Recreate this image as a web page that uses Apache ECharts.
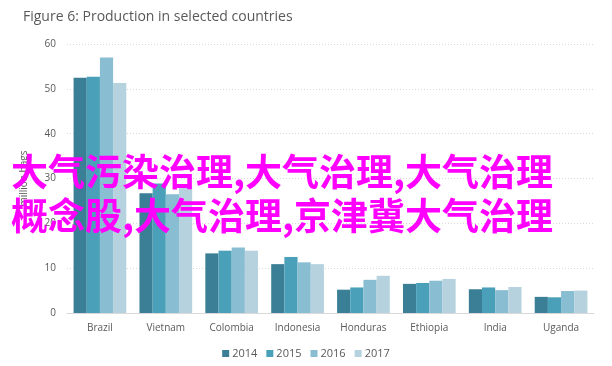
<!DOCTYPE html>
<html>
<head>
<meta charset="utf-8">
<script src="https://cdn.jsdelivr.net/npm/echarts@6/dist/echarts.min.js"></script>
<style>html,body{margin:0;padding:0;background:#fff;}#c{width:612px;height:366px;}</style>
</head>
<body>
<div id="c"></div>
<script>
const categories = ['Brazil','Vietnam','Colombia','Indonesia','Honduras','Ethiopia','India','Uganda'];
const seriesNames = ['2014','2015','2016','2017'];
const v2014 = [52.5, 26.7, 13.3, 10.9, 5.2, 6.5, 5.3, 3.6];
const v2015 = [52.7, 28.9, 13.9, 12.5, 5.7, 6.7, 5.7, 3.5];
const v2016 = [57.0, 26.5, 14.6, 11.3, 7.4, 7.2, 5.1, 4.9];
const v2017 = [51.3, 28.5, 13.9, 10.9, 8.3, 7.6, 5.8, 5.0];
const yTicks = [0, 10, 20, 30, 40, 50, 60];
const colors = ['#3b7f96', '#4aa0b9', '#88bdd2', '#b6d2de'];
const overlayText = '大气污染治理,大气治理,大气治理\n概念股,大气治理,京津冀大气治理';

const values = [v2014, v2015, v2016, v2017];
const chart = echarts.init(document.getElementById('c'));
chart.setOption({
  animation: false,
  title: {
    text: 'Figure 6: Production in selected countries',
    left: 18, top: 5,
    textStyle: {fontFamily: 'Open Sans', fontSize: 14, fontWeight: 'normal', color: '#595959'}
  },
  legend: {
    bottom: 2, left: 'center',
    itemWidth: 7, itemHeight: 7, itemGap: 9,
    icon: 'rect',
    textStyle: {fontFamily: 'Open Sans', fontSize: 11, color: '#595959', padding: [0,0,0,-2]},
    data: seriesNames
  },
  grid: {left: 67, right: 18, top: 44, bottom: 53},
  xAxis: {
    type: 'category', data: categories,
    axisLine: {lineStyle: {color: '#d9d9d9'}},
    axisTick: {show: false},
    axisLabel: {fontFamily: 'Open Sans', fontSize: 10, color: '#595959', margin: 10}
  },
  yAxis: {
    type: 'value', min: yTicks[0], max: yTicks[yTicks.length-1], interval: 10,
    name: 'million bags', nameLocation: 'middle', nameGap: 38,
    nameTextStyle: {fontFamily: 'Open Sans', fontSize: 10, color: '#595959'},
    axisLine: {show: false}, axisTick: {show: false},
    axisLabel: {fontFamily: 'Open Sans', fontSize: 10, color: '#595959', margin: 11},
    splitLine: {lineStyle: {color: '#d9d9d9', type: [1, 2]}}
  },
  series: values.map((d, i) => ({
    name: seriesNames[i], type: 'bar', data: d,
    itemStyle: {color: colors[i]},
    barGap: '0%', barCategoryGap: '20%'
  })),
  graphic: [{
    type: 'text', left: 11, top: 150, z: 100,
    style: {
      text: overlayText,
      font: 'bold 37px "Noto Sans CJK SC"',
      fill: '#ff00ff',
      lineHeight: 44
    }
  }]
});
</script>
</body>
</html>
